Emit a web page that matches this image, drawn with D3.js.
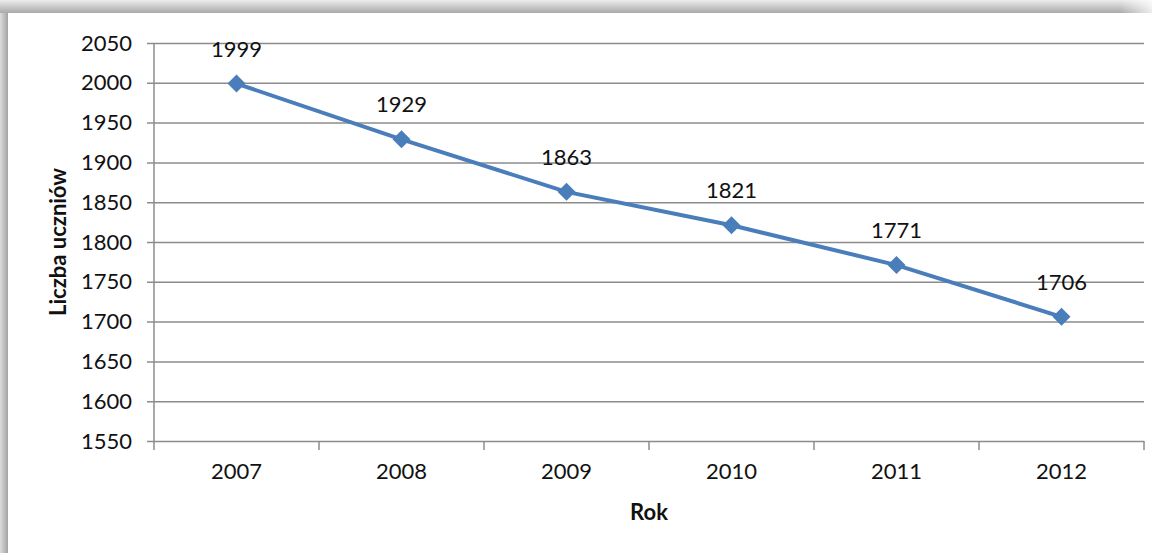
<!DOCTYPE html>
<html>
<head>
<meta charset="utf-8">
<script src="https://cdn.jsdelivr.net/npm/d3@7"></script>
<style>
  body { margin: 0; background: #fff; }
  svg { display: block; font-family: Lato, "Open Sans", sans-serif; }
</style>
</head>
<body>
<div id="chart"></div>
<script>
// data
const years = ["2007", "2008", "2009", "2010", "2011", "2012"];
const students = [1999, 1929, 1863, 1821, 1771, 1706];
const yTicks = [1550, 1600, 1650, 1700, 1750, 1800, 1850, 1900, 1950, 2000, 2050];

const WIDTH = 1161;
const HEIGHT = 553;
const LEFT = 154, RIGHT = 1144, TOP = 43, BOTTOM = 441;
const LINE_COLOR = "#4a7ebb";
const NUM_SIZE = 22;

let svg = d3.select("#chart")
            .append("svg")
            .attr("width", WIDTH)
            .attr("height", HEIGHT);

// frame shadow (top + left bands)
let defs = svg.append("defs");
let gTop = defs.append("linearGradient").attr("id", "gTop")
               .attr("x1", 0).attr("y1", 0).attr("x2", 0).attr("y2", 1);
gTop.append("stop").attr("offset", "0%").attr("stop-color", "#ececec");
gTop.append("stop").attr("offset", "100%").attr("stop-color", "#a9a9a9");
let gTopFade = defs.append("linearGradient").attr("id", "gTopFade")
                   .attr("x1", 0).attr("y1", 0).attr("x2", 1).attr("y2", 0);
gTopFade.append("stop").attr("offset", "0%").attr("stop-color", "#fff").attr("stop-opacity", 0);
gTopFade.append("stop").attr("offset", "100%").attr("stop-color", "#fff").attr("stop-opacity", 1);
let gLeft = defs.append("linearGradient").attr("id", "gLeft")
                .attr("x1", 0).attr("y1", 0).attr("x2", 1).attr("y2", 0);
gLeft.append("stop").attr("offset", "0%").attr("stop-color", "#dcdcdc");
gLeft.append("stop").attr("offset", "100%").attr("stop-color", "#a3a3a3");

svg.append("rect").attr("x", 0).attr("y", 0).attr("width", 1152).attr("height", 13)
   .attr("fill", "url(#gTop)");
svg.append("rect").attr("x", 1120).attr("y", 0).attr("width", 41).attr("height", 13)
   .attr("fill", "url(#gTopFade)");
svg.append("rect").attr("x", 0).attr("y", 13).attr("width", 8).attr("height", HEIGHT - 13)
   .attr("fill", "url(#gLeft)");

// scales
let xScale = d3.scaleBand()
               .domain(years)
               .range([LEFT, RIGHT]);
let yScale = d3.scaleLinear()
               .domain([1550, 2050])
               .range([BOTTOM, TOP]);

// gridlines + y axis
let yAxis = d3.axisLeft(yScale)
              .tickValues(yTicks)
              .tickSize(-(RIGHT - LEFT))
              .tickPadding(22)
              .tickFormat(d => d);
let gy = svg.append("g")
            .attr("transform", "translate(" + LEFT + ",0)")
            .call(yAxis);
gy.select(".domain").remove();
gy.selectAll(".tick line")
  .attr("x1", -7)
  .attr("stroke", "#8c8c8c")
  .attr("stroke-width", 1.5);
gy.selectAll(".tick text")
  .attr("font-size", NUM_SIZE)
  .attr("font-family", "Lato, sans-serif")
  .attr("fill", "#111");

svg.append("line")
   .attr("x1", LEFT).attr("x2", LEFT)
   .attr("y1", TOP).attr("y2", BOTTOM + 9)
   .attr("stroke", "#8c8c8c").attr("stroke-width", 1.5);

// x axis
let xAxis = d3.axisBottom(xScale).tickSize(0).tickPadding(22);
let gx = svg.append("g")
            .attr("transform", "translate(0," + BOTTOM + ")")
            .call(xAxis);
gx.select(".domain").remove();
gx.selectAll(".tick text")
  .attr("font-size", NUM_SIZE)
  .attr("font-family", "Lato, sans-serif")
  .attr("fill", "#111");

// category boundary ticks
svg.selectAll(".xbound")
   .data(years.slice(1).concat(["end"]))
   .enter()
   .append("line")
   .attr("class", "xbound")
   .attr("x1", (d, i) => i < years.length - 1 ? xScale(d) : RIGHT)
   .attr("x2", (d, i) => i < years.length - 1 ? xScale(d) : RIGHT)
   .attr("y1", BOTTOM)
   .attr("y2", BOTTOM + 9)
   .attr("stroke", "#8c8c8c").attr("stroke-width", 1.5);

// line
let cx = d => xScale(d) + xScale.bandwidth() / 2;
let line = d3.line()
             .x((d, i) => cx(years[i]))
             .y(d => yScale(d));
svg.append("path")
   .datum(students)
   .attr("d", line)
   .attr("fill", "none")
   .attr("stroke", LINE_COLOR)
   .attr("stroke-width", 4);

// diamond markers
svg.selectAll(".marker")
   .data(students)
   .enter()
   .append("path")
   .attr("class", "marker")
   .attr("d", "M0,-9L9,0L0,9L-9,0Z")
   .attr("transform", (d, i) => "translate(" + cx(years[i]) + "," + yScale(d) + ")")
   .attr("fill", LINE_COLOR);

// data labels
svg.selectAll(".label")
   .data(students)
   .enter()
   .append("text")
   .attr("class", "label")
   .attr("x", (d, i) => cx(years[i]))
   .attr("y", d => yScale(d) - 27)
   .attr("text-anchor", "middle")
   .attr("font-size", NUM_SIZE)
   .attr("fill", "#111")
   .text(d => d);

// axis titles
svg.append("text")
   .attr("x", (LEFT + RIGHT) / 2)
   .attr("y", 520)
   .attr("text-anchor", "middle")
   .attr("font-size", 22)
   .attr("font-weight", "bold")
   .attr("fill", "#111")
   .text("Rok");

svg.append("text")
   .attr("transform", "translate(66," + ((TOP + BOTTOM) / 2) + ") rotate(-90)")
   .attr("text-anchor", "middle")
   .attr("font-size", 22)
   .attr("font-weight", "bold")
   .attr("fill", "#111")
   .text("Liczba uczniów");
</script>
</body>
</html>
